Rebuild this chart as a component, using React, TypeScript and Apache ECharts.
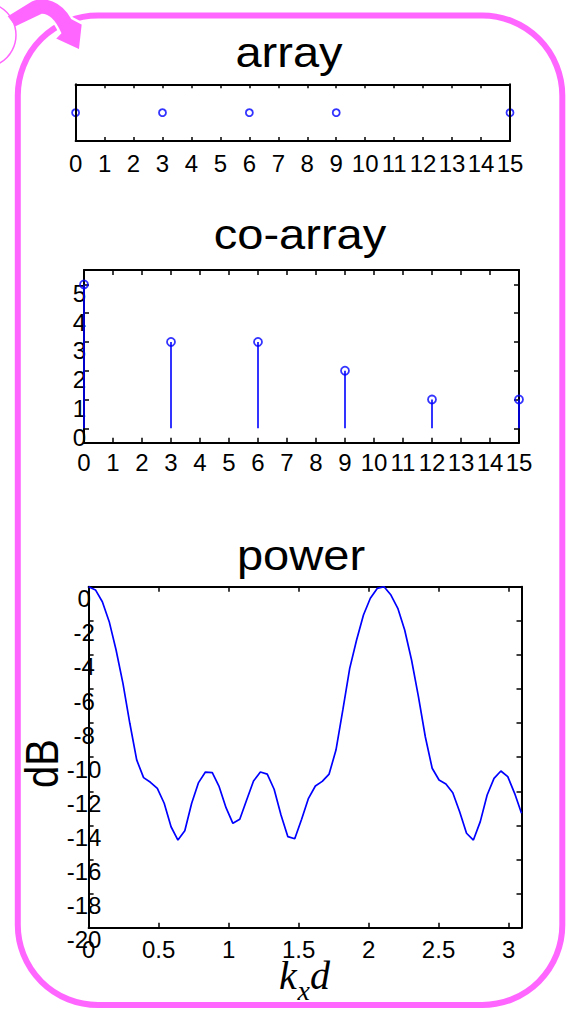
import React, { useEffect, useRef } from "react";
import * as echarts from "echarts";

// ---------- data ----------
const arrayPositions = [0, 3, 6, 9, 15];
const coarrayLags = [0, 3, 6, 9, 12, 15];
const coarrayWeights = [5, 3, 3, 2, 1, 1];
const coarrayYTicks = [0, 1, 2, 3, 4, 5];
const panelTitles = ["array", "co-array", "power"];

const powerKd = [
  0, 0.0491, 0.0982, 0.1473, 0.1963, 0.2454, 0.2945, 0.3436, 0.3927, 0.4418,
  0.4909, 0.54, 0.589, 0.6381, 0.6872, 0.7363, 0.7854, 0.8345, 0.8836, 0.9327,
  0.9817, 1.0308, 1.0799, 1.129, 1.1781, 1.2272, 1.2763, 1.3254, 1.3744, 1.4235,
  1.4726, 1.5217, 1.5708, 1.6199, 1.669, 1.7181, 1.7671, 1.8162, 1.8653, 1.9144,
  1.9635, 2.0126, 2.0617, 2.1108, 2.1598, 2.2089, 2.258, 2.3071, 2.3562, 2.4053,
  2.4544, 2.5035, 2.5525, 2.6016, 2.6507, 2.6998, 2.7489, 2.798, 2.8471, 2.8962,
  2.9452, 2.9943, 3.0434, 3.0925,
];
const powerDb = [
  0, -0.19, -0.88, -2.05, -3.71, -5.67, -8.01, -10.16, -11.2, -11.47,
  -11.83, -12.7, -14.08, -14.86, -14.31, -12.7, -11.49, -10.87, -10.91, -11.73,
  -12.96, -13.88, -13.64, -12.51, -11.4, -10.87, -10.99, -11.88, -13.39, -14.66,
  -14.78, -13.64, -12.41, -11.69, -11.42, -10.99, -9.58, -7.23, -4.79, -3.13,
  -1.66, -0.68, -0.1, 0, -0.49, -1.27, -2.54, -4.3, -6.45, -8.8,
  -10.65, -11.34, -11.57, -12.08, -13.2, -14.46, -14.86, -13.78, -12.22, -11.24,
  -10.81, -11.14, -12.12, -13.29,
];

// ---------- styles ----------
const PINK = "#ff66ff";
const BLUE = "#0000ff";
const FONT = "'Liberation Sans', Arial, Helvetica, sans-serif";
const SERIF = "'Liberation Serif', 'Times New Roman', Times, serif";

echarts.graphic.registerShape(
  "pinkArrow",
  echarts.graphic.extendPath(
    "M 6 16 L 32 0 C 45 -5 62 0 72 18 L 83 24 L 80 51 L 54 39 L 60 33 C 56 24 50 15 42 15 L 15 28 Z",
    {}
  )
);

const axisLine = { show: true, onZero: false, lineStyle: { color: "#000", width: 2 } };
const tickStyle = { color: "#000", width: 1.5 };
const labelBase = { color: "#000", fontFamily: FONT, fontSize: 24, lineHeight: 24, hideOverlap: false };

function xPair(grid: number, min: number, max: number, interval: number, margin: number, lineHeight: number, tickLen: number, showMax: boolean) {
  const common = {
    type: "value",
    gridIndex: grid,
    min,
    max,
    interval,
    axisLine,
    splitLine: { show: false },
    axisTick: { show: true, inside: true, length: tickLen, lineStyle: tickStyle },
  };
  return [
    {
      ...common,
      position: "bottom",
      axisLabel: { ...labelBase, lineHeight, show: true, margin, showMinLabel: true, showMaxLabel: showMax },
    },
    { ...common, position: "top", axisLabel: { show: false } },
  ];
}

export default function App() {
  const ref = useRef<HTMLDivElement>(null);
  useEffect(() => {
    if (!ref.current) return;
    const chart = echarts.init(ref.current, undefined, { renderer: "svg" });

    const xAxis = [
      ...xPair(0, 0, 15, 1, 10, 24, 4, true),
      ...xPair(1, 0, 15, 1, 8, 24, 5, true),
      ...xPair(2, 0, 3.0925, 0.5, 12.5, 18, 5, false),
    ];

    const yAxis = [
      { type: "value", gridIndex: 0, position: "left", min: -1, max: 1, axisLine, axisTick: { show: false }, axisLabel: { show: false }, splitLine: { show: false }, z: 3 },
      { type: "value", gridIndex: 0, position: "right", min: -1, max: 1, axisLine, axisTick: { show: false }, axisLabel: { show: false }, splitLine: { show: false }, z: 3 },
      {
        type: "value", gridIndex: 1, position: "left", min: -0.5, max: 5.5, axisLine, splitLine: { show: false },
        axisTick: { show: true, inside: true, length: 5, lineStyle: tickStyle, customValues: coarrayYTicks },
        axisLabel: { ...labelBase, lineHeight: 18, customValues: coarrayYTicks, align: "center", verticalAlign: "top", margin: 4.5 },
      },
      {
        type: "value", gridIndex: 1, position: "right", min: -0.5, max: 5.5, axisLine, splitLine: { show: false },
        axisTick: { show: true, inside: true, length: 5, lineStyle: tickStyle, customValues: coarrayYTicks },
        axisLabel: { show: false },
      },
      {
        type: "value", gridIndex: 2, position: "left", min: -20, max: 0, interval: 2, axisLine, splitLine: { show: false },
        axisTick: { show: true, inside: true, length: 5, lineStyle: tickStyle },
        axisLabel: { ...labelBase, align: "center", verticalAlign: "top", margin: 4.5 },
      },
      {
        type: "value", gridIndex: 2, position: "right", min: -20, max: 0, interval: 2, axisLine, splitLine: { show: false },
        axisTick: { show: true, inside: true, length: 5, lineStyle: tickStyle },
        axisLabel: { show: false },
      },
    ];

    const circleStyle = { color: "rgba(0,0,0,0)", borderColor: BLUE, borderWidth: 1.8 };

    const option = {
      animation: false,
      backgroundColor: "#ffffff",
      grid: [
        { left: 75.6, top: 84.3, width: 434.4, height: 56.7 },
        { left: 84, top: 270, width: 435, height: 172.7 },
        { left: 88.6, top: 586.7, width: 432.9, height: 341 },
      ],
      xAxis,
      yAxis,
      series: [
        {
          type: "scatter", xAxisIndex: 0, yAxisIndex: 0, clip: false,
          symbol: "circle", symbolSize: 7, itemStyle: circleStyle,
          data: arrayPositions.map((p) => [p, 0]),
        },
        {
          type: "bar", xAxisIndex: 2, yAxisIndex: 2, clip: false, barWidth: 1.6,
          itemStyle: { color: BLUE },
          data: coarrayLags.map((l, i) => [l, coarrayWeights[i]]),
        },
        {
          type: "scatter", xAxisIndex: 2, yAxisIndex: 2, clip: false,
          symbol: "circle", symbolSize: 8, itemStyle: circleStyle, z: 4,
          data: coarrayLags.map((l, i) => [l, coarrayWeights[i]]),
        },
        {
          type: "line", xAxisIndex: 4, yAxisIndex: 4, showSymbol: false, symbol: "none",
          lineStyle: { color: BLUE, width: 1.7 },
          data: powerKd.map((k, i) => [k, powerDb[i]]),
        },
      ],
      graphic: [
        { type: "rect", z: 10, shape: { x: 17.8, y: 15.5, width: 544.5, height: 989.5, r: 80 }, style: { fill: "none", stroke: PINK, lineWidth: 6 } },
        { type: "pinkArrow", z: 12, x: 0, y: 0, style: { fill: PINK, stroke: "#ffffff", lineWidth: 2.5 } },
        { type: "circle", z: 13, shape: { cx: -16.5, cy: 35, r: 32.5 }, style: { fill: "none", stroke: PINK, lineWidth: 1.5 } },
        { type: "text", z: 20, x: 289, y: 52, scaleX: 1.12, style: { text: panelTitles[0], fontFamily: FONT, fontSize: 42, fill: "#000", align: "center", verticalAlign: "middle" } },
        { type: "text", z: 20, x: 300, y: 234.7, scaleX: 1.12, style: { text: panelTitles[1], fontFamily: FONT, fontSize: 42, fill: "#000", align: "center", verticalAlign: "middle" } },
        { type: "text", z: 20, x: 301, y: 555.4, scaleX: 1.12, style: { text: panelTitles[2], fontFamily: FONT, fontSize: 42, fill: "#000", align: "center", verticalAlign: "middle" } },
        { type: "text", z: 20, x: 41.5, y: 763.5, rotation: Math.PI / 2, scaleY: 1.15, style: { text: "dB", fontFamily: FONT, fontSize: 40, fill: "#000", align: "center", verticalAlign: "middle" } },
        { type: "text", z: 20, x: 279, y: 975.5, style: { text: "k", fontFamily: SERIF, fontStyle: "italic", fontSize: 40, lineHeight: 24, fill: "#000", align: "left", verticalAlign: "middle" } },
        { type: "text", z: 20, x: 297.5, y: 990.5, style: { text: "x", fontFamily: SERIF, fontStyle: "italic", fontSize: 28, lineHeight: 18, fill: "#000", align: "left", verticalAlign: "middle" } },
        { type: "text", z: 20, x: 310, y: 975.5, style: { text: "d", fontFamily: SERIF, fontStyle: "italic", fontSize: 40, lineHeight: 24, fill: "#000", align: "left", verticalAlign: "middle" } },
      ],
    };

    chart.setOption(option as any);
    return () => chart.dispose();
  }, []);

  return (
    <div
      ref={ref}
      style={{ position: "absolute", left: 0, top: 0, width: 567, height: 1009, background: "#fff" }}
    />
  );
}
